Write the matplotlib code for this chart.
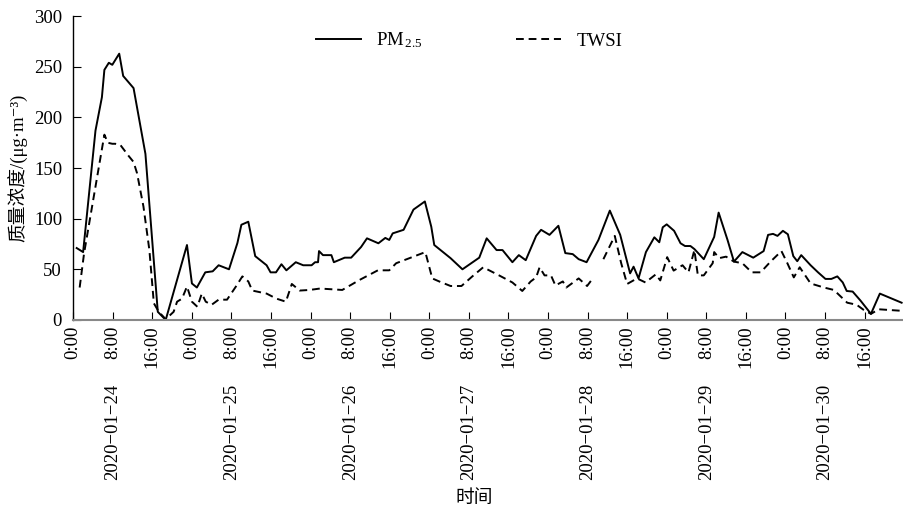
import numpy as np
import matplotlib
matplotlib.use("Agg")
import matplotlib.pyplot as plt
from matplotlib.transforms import blended_transform_factory

plt.rcParams['font.family'] = ['Liberation Serif', 'Noto Sans CJK SC', 'DejaVu Serif']
plt.rcParams['mathtext.fontset'] = 'custom'
plt.rcParams['mathtext.rm'] = 'Liberation Serif'
plt.rcParams['mathtext.it'] = 'Liberation Serif:italic'

# 时间: 自 2020-01-24 0:00 起的小时数
pm_hours = [0.7, 2.0, 4.5, 5.8, 6.3, 7.2, 7.9, 9.3, 10.1, 12.2, 14.6, 17.1, 18.7,
            23.0, 24.0, 25.0, 26.7, 28.2, 29.4, 31.5, 33.2, 34.0, 35.4, 36.8, 39.1,
            39.9, 41.0, 42.1, 43.1, 45.0, 46.5, 48.2, 48.9, 49.5, 49.7, 50.5, 52.2,
            52.7, 54.9, 56.2, 58.2, 59.4, 61.7, 63.1, 63.9, 64.6, 66.8, 68.8, 71.1,
            72.4, 73.0, 76.3, 78.7, 82.1, 83.6, 85.6, 86.8, 88.8, 90.1, 91.5, 93.6,
            94.6, 96.3, 98.1, 99.5, 101.0, 102.2, 103.8, 106.2, 108.5, 110.6, 112.6,
            113.3, 114.3, 115.8, 117.5, 118.5, 119.2, 120.0, 121.5, 122.8, 123.7,
            124.8, 125.6, 127.5, 129.6, 130.5, 132.3, 133.6, 135.3, 137.5, 139.6,
            140.5, 141.5, 142.4, 143.5, 144.5, 145.6, 146.4, 147.2, 149.1, 150.6,
            152.1, 153.3, 154.5, 155.6, 156.4, 157.6, 159.2, 161.3, 163.1, 167.5]
pm_vals = [71, 67, 187, 220, 247, 254, 252, 263, 241, 229, 164, 8, 0,
           74, 36, 32, 47, 48, 54, 50, 76, 94, 97, 63, 54,
           47, 47, 55, 49, 57, 54, 54, 57, 57, 68, 64, 64,
           57, 61.5, 61.5, 72, 80.6, 75.7, 81, 79, 85.5, 89, 109, 117,
           92, 74, 61, 50, 61.5, 80.6, 69, 69, 57, 64, 59, 83,
           89, 84, 93, 66, 65, 60, 57, 79, 108, 84, 46,
           52.6, 41, 67, 81.6, 76.7, 91.5, 94.4, 88, 75.7, 73,
           73, 70, 60, 82, 106, 79, 57.6, 67, 61.5, 68,
           84, 85, 83, 88, 84.6, 63, 58, 64, 54, 47,
           40.5, 40.5, 43, 37, 28.6, 28, 19, 6, 26, 17]

twsi_hours = [1.3, 2.2, 6.3, 7.0, 7.9, 8.5, 9.5, 11.2, 12.2, 12.9, 14.2, 15.4, 16.3,
              17.3, 18.7, 20.3, 21.0, 22.0, 23.0, 24.0, 25.1, 26.0, 26.8, 28.0, 29.4,
              31.1, 32.9, 34.2, 35.4, 36.2, 39.1, 41.1, 43.0, 44.2, 45.8, 47.8, 49.9,
              54.4, 57.9, 61.6, 63.9, 65.3, 71.2, 72.6, 74.0, 76.3, 78.5, 80.7, 82.9,
              86.1, 88.8, 90.8, 92.5, 93.6, 94.3, 95.3, 96.6, 97.5, 99.0, 99.7, 102.2,
              103.9, 104.9, 106.0, 107.2, 109.5, 110.8, 112.0, 114.0, 115.7, 117.8,
              118.7, 120.1, 121.4, 123.2, 124.4, 125.6, 126.3, 127.5, 129.3, 129.6,
              130.6, 132.0, 133.6, 135.3, 137.2, 139.0, 141.0, 143.2, 144.4, 145.7,
              146.9, 149.1, 151.8, 153.8, 156.5, 158.4, 159.8, 161.3, 162.9, 167.5]
twsi_vals = [32, 66, 183, 175, 174, 174, 173, 162, 156, 145, 112, 69, 16.5,
             8, 0.7, 8, 18, 21, 33, 18, 13, 26, 18, 15, 20,
             20, 33, 43, 38, 29, 26, 21, 18, 35.5, 29, 29.6, 31,
             29.6, 39.5, 49, 49, 56, 67, 41, 38, 33.5, 33.5, 43, 52,
             44, 37, 28.6, 38, 42, 52, 44, 44, 34, 38, 32, 41,
             33.5, 40, np.nan, 60, 83, 56, 35.5, 41, 37, 45,
             39, 62, 48.7, 54, 47, 69, 44, 44, 56, 67,
             61, 62.5, 57.6, 56, 47, 47, 57.6, 68, 56, 42,
             52, 36, 32, 29.6, 17, 15, 10, 6, 10.5, 9]

tick_hours = list(range(0, 168, 8))
tick_labels = [f"{h % 24}:00" for h in tick_hours]
dates = ["2020-01-24", "2020-01-25", "2020-01-26", "2020-01-27",
         "2020-01-28", "2020-01-29", "2020-01-30"]

fig = plt.figure(figsize=(9.04, 5.07), dpi=100)
ax = fig.add_axes([0.081, 0.369, 0.918, 0.599])

ax.plot(pm_hours, pm_vals, color='black', lw=1.4, label='PM$_{\\,2.5}$')
ax.plot(twsi_hours, twsi_vals, color='black', lw=1.4, dashes=(4, 2.5), label='TWSI')

ax.set_xlim(0, 167.8)
ax.set_ylim(0, 300)
ax.set_yticks(range(0, 301, 50))
ax.set_xticks(tick_hours)
ax.set_xticklabels(tick_labels, rotation=90, fontsize=13.5)
ax.tick_params(axis='y', direction='in', length=6, labelsize=13.5, pad=8)
ax.tick_params(axis='x', direction='in', length=6, pad=4)

for s in ['top', 'right']:
    ax.spines[s].set_visible(False)
ax.spines['bottom'].set_color('#888888')
ax.spines['bottom'].set_linewidth(1.5)
ax.spines['left'].set_linewidth(1.0)

trans = blended_transform_factory(ax.transData, ax.transAxes)
for i, d in enumerate(dates):
    ax.text(8 + 24 * i, -0.37, d.replace('-', '\u2212'), transform=trans, rotation=90,
            ha='center', va='center', fontsize=13.5)

ax.set_ylabel('质量浓度/(μg·m\u207b\u00b3)', fontsize=13.5, labelpad=4)
fig.text(0.525, 0.016, '时间', ha='center', va='center', fontsize=13.5)

ax.legend(ncol=2, frameon=False, loc='center', bbox_to_anchor=(0.477, 0.92),
          fontsize=13.5, handlelength=2.4, columnspacing=5.0)

fig.savefig('out.png', dpi=100)
